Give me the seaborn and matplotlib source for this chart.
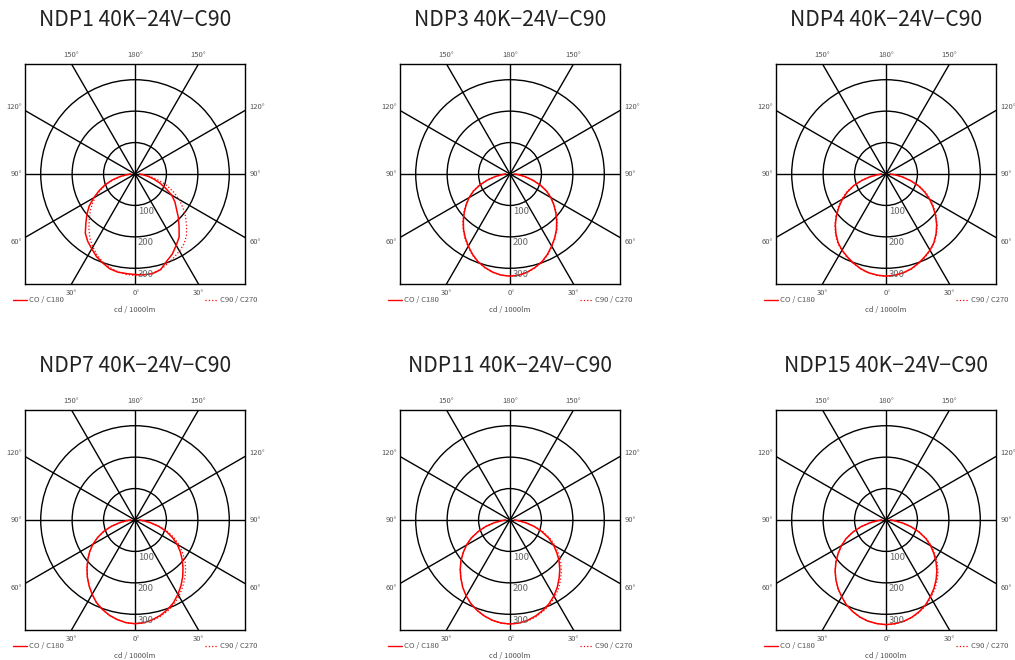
import numpy as np
import pandas as pd
import matplotlib
matplotlib.use('Agg')
import matplotlib.pyplot as plt
from matplotlib.patches import Circle
import seaborn as sns

# gamma angles (deg from nadir) for every half-plane profile
gamma = [0, 5, 10, 15, 20, 25, 30, 35, 40, 45, 50, 55, 60, 65, 70, 75, 80, 85, 90]

titles = ['NDP1 40K−24V−C90', 'NDP3 40K−24V−C90', 'NDP4 40K−24V−C90',
          'NDP7 40K−24V−C90', 'NDP11 40K−24V−C90', 'NDP15 40K−24V−C90']

# cd / 1000lm
ndp1_c0 = [320, 318, 317, 312, 301, 290, 275, 262, 246, 221, 200, 178, 152, 126, 102, 76, 50, 28, 14]
ndp1_c180 = [320, 322, 322, 315, 295, 281, 262, 245, 218, 195, 172, 155, 135, 108, 84, 62, 42, 25, 14]
ndp1_c90 = [323, 322, 320, 314, 304, 293, 283, 272, 255, 232, 210, 186, 162, 136, 108, 80, 52, 28, 14]
ndp1_c270 = [323, 321, 316, 308, 298, 285, 268, 250, 228, 206, 186, 166, 145, 122, 98, 72, 48, 27, 14]

ndp3_c0 = [325, 323, 317, 308, 297, 282, 265, 248, 230, 210, 190, 170, 150, 128, 102, 74, 48, 28, 14]
ndp3_c90 = [325, 323, 318, 309, 298, 284, 267, 250, 232, 212, 192, 172, 152, 130, 104, 76, 50, 28, 14]

ndp4_c0 = [325, 323, 319, 312, 302, 291, 280, 266, 248, 228, 206, 183, 160, 136, 110, 80, 52, 28, 14]
ndp4_c90 = [326, 324, 320, 313, 303, 293, 281, 268, 250, 230, 208, 186, 164, 140, 112, 82, 54, 29, 14]

ndp7_c0 = [330, 328, 322, 314, 303, 290, 273, 255, 236, 216, 196, 176, 155, 131, 106, 78, 50, 28, 14]
ndp7_c90 = [331, 329, 324, 317, 307, 295, 280, 263, 246, 228, 208, 186, 164, 140, 112, 82, 52, 29, 14]

ndp11_c0 = [331, 329, 324, 316, 306, 294, 279, 262, 243, 224, 204, 182, 160, 136, 108, 80, 52, 28, 14]
ndp11_c90 = [332, 330, 326, 319, 309, 298, 284, 268, 250, 231, 211, 189, 167, 142, 114, 84, 54, 29, 14]

ndp15_c0 = [333, 331, 327, 320, 310, 298, 282, 266, 248, 229, 208, 186, 164, 140, 112, 82, 53, 28, 14]
ndp15_c90 = [334, 332, 328, 321, 312, 300, 285, 270, 253, 234, 213, 190, 168, 143, 115, 84, 54, 29, 14]

# (C0, C180, C90, C270) per panel
panels = [
    (ndp1_c0, ndp1_c180, ndp1_c90, ndp1_c270),
    (ndp3_c0, ndp3_c0, ndp3_c90, ndp3_c90),
    (ndp4_c0, ndp4_c0, ndp4_c90, ndp4_c90),
    (ndp7_c0, ndp7_c0, ndp7_c90, ndp7_c0),
    (ndp11_c0, ndp11_c0, ndp11_c90, ndp11_c0),
    (ndp15_c0, ndp15_c0, ndp15_c90, ndp15_c0),
]

rings = [100, 200, 300]
spokes = [0, 30, 60, 90, 120, 150]
LIM = 350


def plane_xy(left, right):
    g = np.radians(gamma)
    l = np.array(left, float)
    r = np.array(right, float)
    x = np.concatenate([(-l * np.sin(g))[::-1], (r * np.sin(g))[1:]])
    y = np.concatenate([(-l * np.cos(g))[::-1], (-r * np.cos(g))[1:]])
    return pd.DataFrame({'x': x, 'y': y})


sns.set_style('white')
plt.rcParams['font.family'] = ['Noto Sans CJK KR', 'DejaVu Sans']

fig = plt.figure(figsize=(10.15, 6.6), dpi=100)
W, H = 1015, 660
lefts = [25, 400, 776]
tops = [64, 410]
grey = '#555555'
small = 5.5

for i, (c0, c180, c90, c270) in enumerate(panels):
    px, py = lefts[i % 3], tops[i // 3]
    ax = fig.add_axes([px / W, (H - py - 220) / H, 220 / W, 220 / H])
    ax.set_xlim(-LIM, LIM)
    ax.set_ylim(-LIM, LIM)
    ax.set_aspect('equal')
    ax.set_xticks([])
    ax.set_yticks([])
    for s in ax.spines.values():
        s.set_color('black')
        s.set_linewidth(1.0)

    for r in rings:
        ax.add_patch(Circle((0, 0), r, fill=False, ec='black', lw=1.0, zorder=1))
    for a in spokes:
        t = np.radians(a)
        ax.plot([-900 * np.sin(t), 900 * np.sin(t)], [900 * np.cos(t), -900 * np.cos(t)],
                color='black', lw=1.0, zorder=1)

    d0 = plane_xy(c0, c180)
    d90 = plane_xy(c270, c90)
    sns.lineplot(data=d90, x='x', y='y', sort=False, estimator=None, color='red',
                 lw=0.9, linestyle=':', ax=ax, zorder=3)
    sns.lineplot(data=d0, x='x', y='y', sort=False, estimator=None, color='red',
                 lw=1.1, ax=ax, zorder=4)
    ax.set_xlabel('')
    ax.set_ylabel('')

    for r in rings:
        ax.text(9, -r - 19, str(r), fontsize=6.8, color='#666666', ha='left', va='center', zorder=5)

    # angle labels around the frame
    tx = LIM * np.tan(np.radians(30))
    for x, lab in [(-tx, '150°'), (0, '180°'), (tx, '150°')]:
        ax.text(x, LIM + 28, lab, fontsize=small, color=grey, ha='center', va='center', clip_on=False)
    for x, lab in [(-tx, '30°'), (3, '0°'), (tx, '30°')]:
        ax.text(x, -LIM - 29, lab, fontsize=small, color=grey, ha='center', va='center', clip_on=False)
    for y, lab in [(tx + 10, '120°'), (0, '90°'), (-tx - 14, '60°')]:
        ax.text(-LIM - 8, y, lab, fontsize=small, color=grey, ha='right', va='center', clip_on=False)
        ax.text(LIM + 14, y, lab, fontsize=small, color=grey, ha='left', va='center', clip_on=False)

    ax.text(0, 490, titles[i], fontsize=15.2, color='#222222', ha='center', va='center', clip_on=False)
    ax.text(0, -433, 'cd / 1000lm', fontsize=small, color=grey, ha='center', va='center', clip_on=False)
    ax.plot([-389, -343], [-401, -401], color='red', lw=1.0, clip_on=False)
    ax.text(-336, -401, 'CO / C180', fontsize=small, color=grey, ha='left', va='center', clip_on=False)
    ax.plot([223, 261], [-401, -401], color='red', lw=0.9, linestyle=':', clip_on=False)
    ax.text(269, -401, 'C90 / C270', fontsize=small, color=grey, ha='left', va='center', clip_on=False)

fig.savefig('out.png', dpi=100, facecolor='white')
